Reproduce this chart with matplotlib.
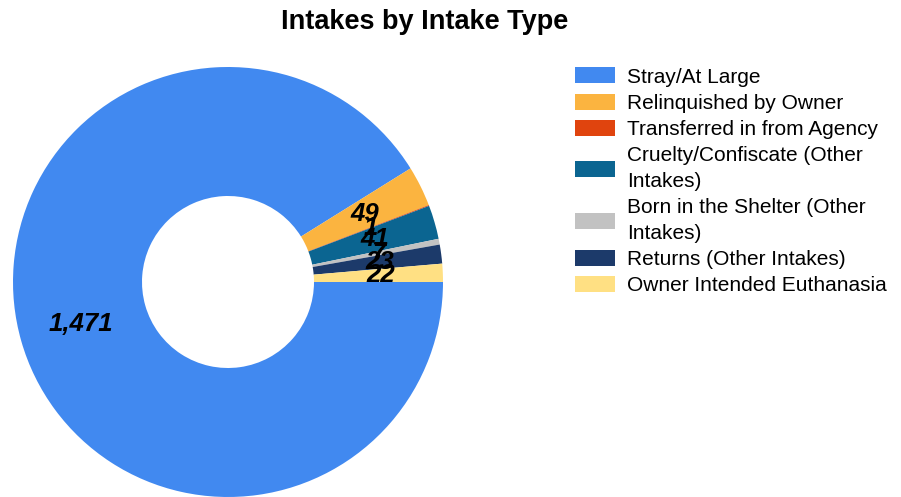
import matplotlib
matplotlib.use("Agg")
import matplotlib.pyplot as plt

plt.rcParams['font.family'] = ['Liberation Sans', 'DejaVu Sans']

categories = ["Stray/At Large", "Relinquished by Owner", "Transferred in from Agency",
              "Cruelty/Confiscate (Other\nIntakes)", "Born in the Shelter (Other\nIntakes)",
              "Returns (Other Intakes)", "Owner Intended Euthanasia"]
counts = [1471, 49, 1, 41, 7, 23, 22]
colors = ["#4189F0", "#FBB440", "#E0440E", "#0B6591", "#C2C2C2", "#1C3A6A", "#FFE083"]

total = sum(counts)

def label_fmt(pct):
    return "{:,}".format(int(round(pct * total / 100.0)))

fig = plt.figure(figsize=(9.01, 4.97), dpi=100)
ax = fig.add_axes([0, 0, 1, 1])

wedges, texts, autotexts = ax.pie(
    counts, colors=colors, startangle=0, counterclock=False,
    radius=215, center=(228, 215), autopct=label_fmt, pctdistance=0.71,
    wedgeprops=dict(width=215 * 0.6, linewidth=0),
    textprops=dict(fontsize=18.5, fontweight='bold', fontstyle='italic', color='black'),
    frame=True)
ax.set_aspect('equal')
ax.axis('off')
ax.set_xlim(0, 901)
ax.set_ylim(0, 497)

fig.text(425 / 901, 1 - 22 / 497, "Intakes by Intake Type", ha='center', va='center',
         fontsize=19.5, fontweight='bold')

leg = fig.legend(wedges, categories, loc='upper left', bbox_to_anchor=(567 / 901, 1 - 59 / 497),
                 frameon=False, fontsize=15, handlelength=1.92, handleheight=0.8,
                 handletextpad=0.55, labelspacing=0.34, borderaxespad=0)
for t in leg.get_texts():
    t.set_linespacing(1.45)

fig.savefig("out.png", dpi=100)
